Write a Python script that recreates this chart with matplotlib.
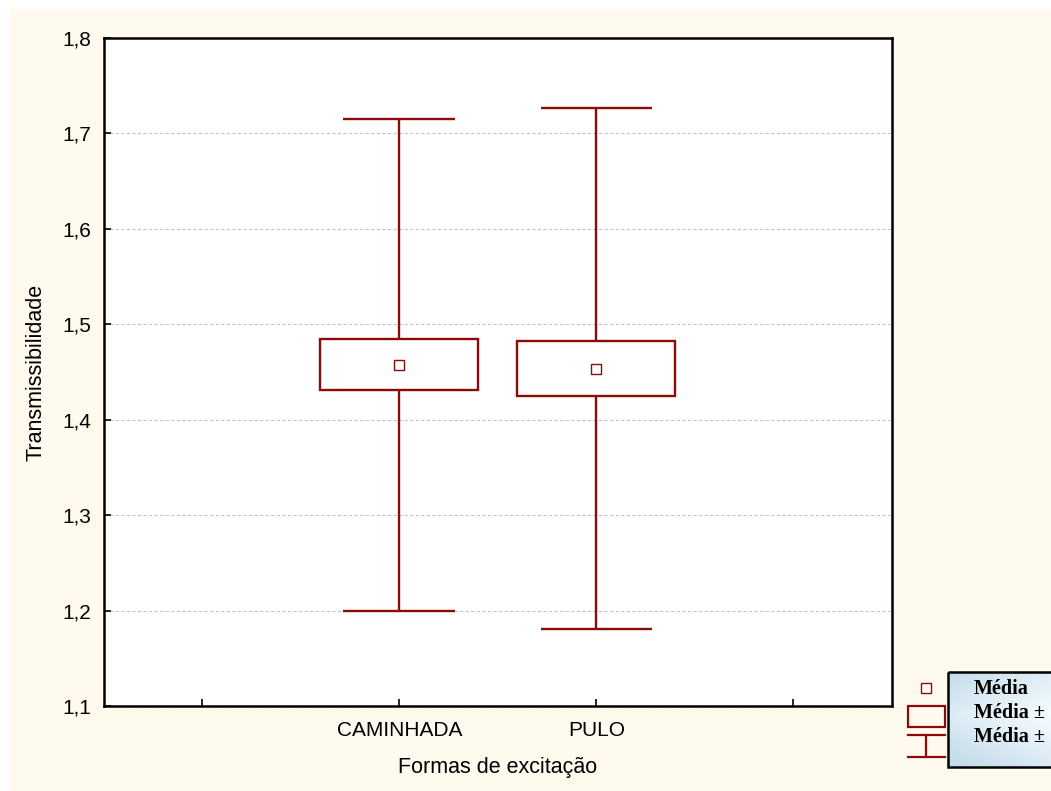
import numpy as np
import matplotlib.pyplot as plt
from matplotlib.patches import Rectangle

plt.rcParams['font.family'] = ['Liberation Sans', 'DejaVu Sans']

categorias = ['CAMINHADA', 'PULO']
media = [1.4576, 1.4535]
caixa_inf = [1.4307, 1.4250]
caixa_sup = [1.4848, 1.4820]
bigode_inf = [1.2000, 1.1806]
bigode_sup = [1.7152, 1.7268]
yticks = [1.1, 1.2, 1.3, 1.4, 1.5, 1.6, 1.7, 1.8]
ytick_labels = ['1,1', '1,2', '1,3', '1,4', '1,5', '1,6', '1,7', '1,8']

vermelho = '#8B0A0A'
creme = '#FFF9EE'

fig = plt.figure(figsize=(10.51, 7.91), dpi=100)
# faixa branca no topo e à esquerda, fundo creme no resto
fig.patch.set_facecolor('white')
fig.add_artist(Rectangle((10 / 1051, 0), 1, (791 - 9) / 791, transform=fig.transFigure,
                         facecolor=creme, edgecolor='none', zorder=-10))

ax = fig.add_axes([103.5 / 1051, (791 - 706) / 791, (892 - 103.5) / 1051, (706 - 38) / 791])
ax.set_facecolor('white')

x = np.arange(1, len(categorias) + 1)
altura = np.array(caixa_sup) - np.array(caixa_inf)
ax.bar(x, altura, bottom=caixa_inf, width=0.8, facecolor='white', edgecolor=vermelho,
       linewidth=1.7, zorder=3)
ax.vlines(x, bigode_inf, caixa_inf, color=vermelho, linewidth=1.7, zorder=3)
ax.vlines(x, caixa_sup, bigode_sup, color=vermelho, linewidth=1.7, zorder=3)
ax.hlines(bigode_inf, x - 0.283, x + 0.283, color=vermelho, linewidth=1.7, zorder=3)
ax.hlines(bigode_sup, x - 0.283, x + 0.283, color=vermelho, linewidth=1.7, zorder=3)
ax.plot(x, media, 's', markersize=7.5, markerfacecolor='white', markeredgecolor=vermelho,
        markeredgewidth=1.0, zorder=4)

ax.set_xlim(-0.5, 3.5)
ax.set_ylim(1.1, 1.8)
ax.set_xticks([0, 1, 2, 3])
ax.set_xticklabels(['', categorias[0], categorias[1], ''], fontsize=15)
ax.set_yticks(yticks)
ax.set_yticklabels(ytick_labels, fontsize=15)
ax.tick_params(direction='in', length=5, width=1.2, pad=9)
ax.tick_params(axis='x', pad=11)
ax.grid(axis='y', color='#C4C4C4', linestyle=(0, (3, 2)), linewidth=0.8)
ax.set_axisbelow(True)
for s in ax.spines.values():
    s.set_linewidth(1.8)
    s.set_color('black')

ax.set_xlabel('Formas de excitação', fontsize=15.5, labelpad=12)
ax.set_ylabel('Transmissibilidade', fontsize=15.5, labelpad=11)

# legenda (cortada na borda direita)
lax = fig.add_axes([900 / 1051, (791 - 772) / 791, 151 / 1051, 107 / 791])
lax.set_xlim(900, 1051)
lax.set_ylim(772, 665)
lax.axis('off')
gx = np.linspace(0, 1, 200)
gy = np.linspace(0, 1, 100)
GX, GY = np.meshgrid(gx, gy)
t = np.clip(0.55 * GX + 0.5 * (1 - np.abs(GY - 0.45) * 2), 0, 1)
c0 = np.array([0.76, 0.86, 0.92])
c1 = np.array([0.97, 0.99, 1.0])
img = c0[None, None, :] * (1 - t[..., None]) + c1[None, None, :] * t[..., None]
lax.imshow(img, extent=(948, 1065, 767, 672), aspect='auto', zorder=1, clip_on=False)
lax.add_patch(Rectangle((948, 672), 117, 95, facecolor='none', edgecolor='black',
                        linewidth=1.8, zorder=2, clip_on=False))
lax.add_patch(Rectangle((921, 683), 10, 10, facecolor='white', edgecolor=vermelho,
                        linewidth=1.0, zorder=2))
lax.add_patch(Rectangle((908, 706), 37, 21, facecolor='none', edgecolor=vermelho,
                        linewidth=1.6, zorder=2))
lax.plot([908, 945], [735, 735], color=vermelho, linewidth=1.6)
lax.plot([908, 945], [757, 757], color=vermelho, linewidth=1.6)
lax.plot([926, 926], [735, 757], color=vermelho, linewidth=1.6)
for yy, txt in zip([689, 713, 737], ['Média', 'Média ±', 'Média ±']):
    lax.text(974, yy, txt, fontsize=14.5, fontweight='bold', family='Liberation Serif',
             va='center', ha='left', zorder=3, clip_on=False)

fig.savefig('out.png', dpi=100, facecolor=fig.get_facecolor())
